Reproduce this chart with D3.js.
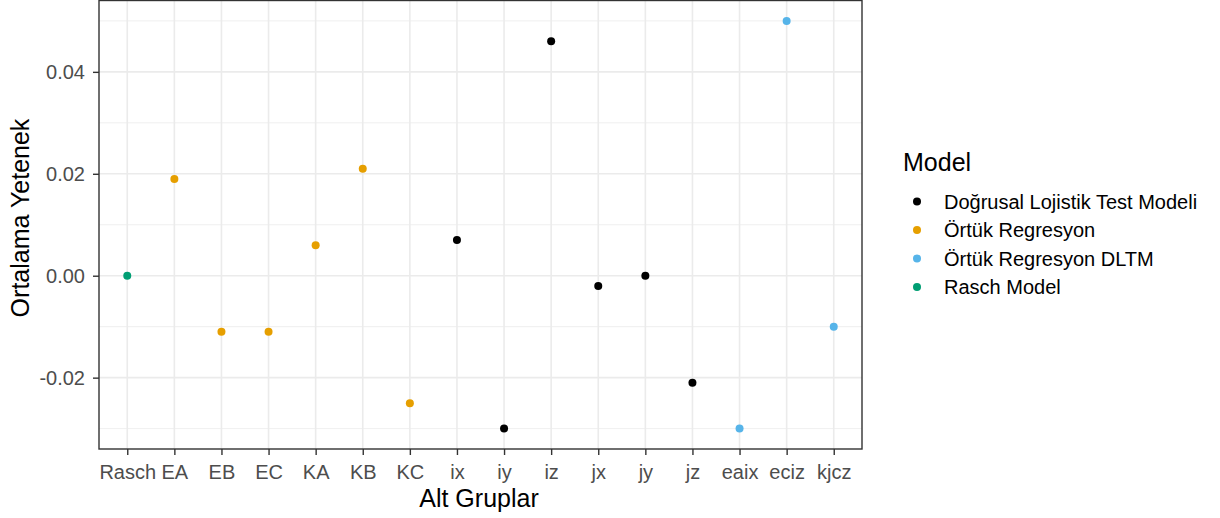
<!DOCTYPE html>
<html><head><meta charset="utf-8">
<script src="https://cdn.jsdelivr.net/npm/d3@7"></script>
<style>body{margin:0;background:#fff}svg{display:block}</style>
</head><body>
<svg id="c" width="1220" height="518"></svg>
<script>
const categories = ["Rasch","EA","EB","EC","KA","KB","KC","ix","iy","iz","jx","jy","jz","eaix","eciz","kjcz"];
const values = [0.000,0.019,-0.011,-0.011,0.006,0.021,-0.025,0.007,-0.030,0.046,-0.002,0.000,-0.021,-0.030,0.050,-0.010];
const groups = ["Rasch Model","Örtük Regresyon","Örtük Regresyon","Örtük Regresyon","Örtük Regresyon","Örtük Regresyon","Örtük Regresyon",
  "Doğrusal Lojistik Test Modeli","Doğrusal Lojistik Test Modeli","Doğrusal Lojistik Test Modeli","Doğrusal Lojistik Test Modeli","Doğrusal Lojistik Test Modeli","Doğrusal Lojistik Test Modeli",
  "Örtük Regresyon DLTM","Örtük Regresyon DLTM","Örtük Regresyon DLTM"];
const legendLabels = ["Doğrusal Lojistik Test Modeli","Örtük Regresyon","Örtük Regresyon DLTM","Rasch Model"];
const legendColors = ["#000000","#E69F00","#56B4E9","#009E73"];
const yTicks = [-0.02,0.00,0.02,0.04];
const yTickLabels = ["-0.02","0.00","0.02","0.04"];
const yMinor = [-0.03,-0.01,0.01,0.03,0.05];

const svg = d3.select("#c");
const font = "'Liberation Sans', Arial, sans-serif";
const L = 99, R = 862, T = 0.5, B = 449;
const step = (R - L) / (categories.length - 1 + 1.2);
const x = d3.scalePoint().domain(categories).range([L + 0.6*step, R - 0.6*step]);
const yMin = -0.03, yMax = 0.05, pad = (yMax - yMin) * 0.05;
const y = d3.scaleLinear().domain([yMin - pad, yMax + pad]).range([B, T]);
const color = d3.scaleOrdinal().domain(legendLabels).range(legendColors);

const g = svg.append("g");
// minor grid
g.selectAll(".ymin").data(yMinor).join("line")
  .attr("x1", L).attr("x2", R).attr("y1", d=>y(d)).attr("y2", d=>y(d))
  .attr("stroke", "#EBEBEB").attr("stroke-width", 0.8);
// major grid
g.selectAll(".ymaj").data(yTicks).join("line")
  .attr("x1", L).attr("x2", R).attr("y1", d=>y(d)).attr("y2", d=>y(d))
  .attr("stroke", "#EBEBEB").attr("stroke-width", 1.6);
g.selectAll(".xmaj").data(categories).join("line")
  .attr("x1", d=>x(d)).attr("x2", d=>x(d)).attr("y1", T).attr("y2", B)
  .attr("stroke", "#EBEBEB").attr("stroke-width", 1.6);

// points
g.selectAll(".pt").data(categories).join("circle")
  .attr("cx", d=>x(d)).attr("cy", (d,i)=>y(values[i])).attr("r", 4)
  .attr("fill", (d,i)=>color(groups[i]));

// border
svg.append("rect").attr("x", L).attr("y", T).attr("width", R-L).attr("height", B-T)
  .attr("fill", "none").attr("stroke", "#333333").attr("stroke-width", 1.4);

// axes
const xAxis = svg.append("g").attr("transform", `translate(0,${B})`)
  .call(d3.axisBottom(x).tickSize(6).tickPadding(5));
const yAxis = svg.append("g").attr("transform", `translate(${L},0)`)
  .call(d3.axisLeft(y).tickValues(yTicks).tickSize(6).tickPadding(8)
    .tickFormat((d,i)=>yTickLabels[i]));
[xAxis, yAxis].forEach(a => {
  a.select(".domain").remove();
  a.selectAll(".tick line").attr("stroke", "#333333").attr("stroke-width", 1.4);
  a.selectAll(".tick text").attr("fill", "#4D4D4D").style("font-family", font).style("font-size", "20px");
});
xAxis.selectAll(".tick text").attr("y", 30).attr("dy", null);
yAxis.selectAll(".tick text").attr("dy", "0.35em");

// axis titles
svg.append("text").attr("x", 479).attr("y", 507).attr("text-anchor", "middle")
  .style("font-family", font).style("font-size", "25px").attr("fill", "#000").text("Alt Gruplar");
svg.append("text").attr("transform", `translate(29,218) rotate(-90)`).attr("text-anchor", "middle")
  .style("font-family", font).style("font-size", "25px").attr("fill", "#000").text("Ortalama Yetenek");

// legend
const lg = svg.append("g");
lg.append("text").attr("x", 903).attr("y", 171).style("font-family", font).style("font-size", "25px")
  .attr("fill", "#000").text("Model");
const items = lg.selectAll(".li").data(legendLabels).join("g")
  .attr("transform", (d,i)=>`translate(0,${201.5 + i*28.5})`);
items.append("circle").attr("cx", 917).attr("cy", 0).attr("r", 4).attr("fill", d=>color(d));
items.append("text").attr("x", 944).attr("y", 0).attr("dy", "0.35em")
  .style("font-family", font).style("font-size", "20px").attr("fill", "#000").text(d=>d);
</script>
</body></html>
